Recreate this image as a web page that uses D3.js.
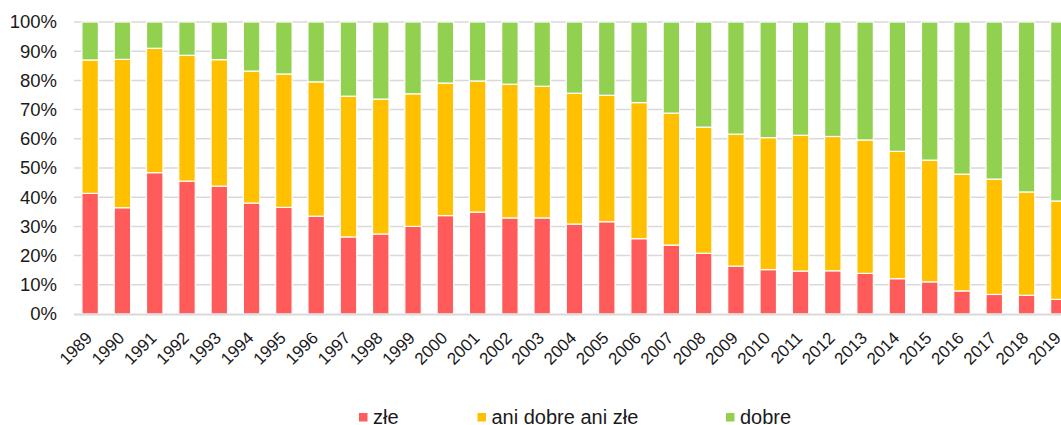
<!DOCTYPE html>
<html>
<head>
<meta charset="utf-8">
<script src="https://cdn.jsdelivr.net/npm/d3@7"></script>
<style>
  body { margin: 0; background: #fff; }
  svg text { font-family: "Liberation Sans", Arial, sans-serif; fill: #1a1a1a; }
</style>
</head>
<body>
<div id="plot"></div>
<script>
var years = ["1989","1990","1991","1992","1993","1994","1995","1996","1997","1998",
             "1999","2000","2001","2002","2003","2004","2005","2006","2007","2008",
             "2009","2010","2011","2012","2013","2014","2015","2016","2017","2018","2019"];

// udział odpowiedzi w %
var zle   = [41.3,36.4,48.4,45.5,43.8,38.0,36.5,33.5,26.4,27.4,
             30.0,33.7,34.9,32.9,32.9,30.8,31.6,25.8,23.6,20.8,
             16.4,15.2,14.7,14.8,13.9,12.1,11.0,7.9,6.7,6.4,5.0];
var ani   = [45.7,50.8,42.6,43.1,43.3,45.2,45.7,46.0,48.2,46.2,
             45.4,45.4,44.9,45.8,45.1,44.8,43.3,46.6,45.2,43.2,
             45.2,45.2,46.5,46.0,45.7,43.6,41.7,40.0,39.5,35.4,33.7];
var dobre = [13.0,12.8,9.0,11.4,12.9,16.8,17.8,20.5,25.4,26.4,
             24.6,20.9,20.2,21.3,22.0,24.4,25.1,27.6,31.2,36.0,
             38.4,39.6,38.8,39.2,40.4,44.3,47.3,52.1,53.8,58.2,61.3];

var seriesNames = ["złe", "ani dobre ani złe", "dobre"];
var seriesKeys  = ["zle", "ani", "dobre"];
var colors      = ["#ff5b5b", "#ffc000", "#92d050"];
var yTicks      = [0,10,20,30,40,50,60,70,80,90,100];

var W = 1061, H = 425;

var svg = d3.select("#plot")
            .append("svg")
            .attr("width", W)
            .attr("height", H);

var rows = years.map(function(y, i){
    return { year: y, zle: zle[i], ani: ani[i], dobre: dobre[i] };
});

var stacked = d3.stack().keys(seriesKeys)(rows);

var xScale = d3.scaleBand()
               .domain(years)
               .range([74, 1075])
               .paddingInner(0.49)
               .paddingOuter(0.245),
    yScale = d3.scaleLinear()
               .domain([0, 100])
               .range([314, 22]);

// siatka
svg.append("g").selectAll("line")
    .data(yTicks.filter(function(d){ return d > 0; }))
    .enter().append("line")
    .attr("x1", 74)
    .attr("x2", W + 20)
    .attr("y1", function(d){ return yScale(d); })
    .attr("y2", function(d){ return yScale(d); })
    .style("stroke", "#d9d9d9")
    .style("stroke-width", 1.5);

// słupki
svg.append("g").selectAll("g")
    .data(stacked)
    .enter().append("g")
    .style("fill", function(d, i){ return colors[i]; })
    .selectAll("rect")
    .data(function(d){ return d; })
    .enter().append("rect")
    .attr("x", function(d){ return xScale(d.data.year); })
    .attr("y", function(d){ return yScale(d[1]); })
    .attr("width", xScale.bandwidth())
    .attr("height", function(d){ return yScale(d[0]) - yScale(d[1]); })
    .style("stroke", "#fff")
    .style("stroke-width", 1.2);

// oś X
svg.append("line")
    .attr("x1", 74)
    .attr("x2", W + 20)
    .attr("y1", yScale(0) + 0.5)
    .attr("y2", yScale(0) + 0.5)
    .style("stroke", "#d9d9d9")
    .style("stroke-width", 2);

// etykiety Y
var yAxis = d3.axisLeft(yScale)
              .tickValues(yTicks)
              .tickSize(0)
              .tickPadding(0)
              .tickFormat(function(d){ return d + "%"; });

var gy = svg.append("g")
            .attr("transform", "translate(57,0)")
            .call(yAxis);
gy.select(".domain").remove();
gy.selectAll("text")
  .style("font-size", "18.5px")
  .style("font-family", "'Liberation Sans', Arial, sans-serif")
  .style("fill", "#1a1a1a");

// etykiety X
var xAxis = d3.axisBottom(xScale).tickSize(0).tickPadding(0);
var gx = svg.append("g")
            .attr("transform", "translate(0,314)")
            .call(xAxis);
gx.select(".domain").remove();
gx.selectAll(".tick text")
  .attr("x", null)
  .attr("y", null)
  .attr("dy", null)
  .attr("transform", "translate(3,25) rotate(-45)")
  .style("text-anchor", "end")
  .style("font-size", "17px")
  .style("font-family", "'Liberation Sans', Arial, sans-serif")
  .style("fill", "#1a1a1a");

// legenda
var legendX = [359, 477.5, 726];
var legend = svg.append("g").selectAll("g")
    .data(seriesNames)
    .enter().append("g")
    .attr("transform", function(d, i){ return "translate(" + legendX[i] + ",413)"; });
legend.append("rect")
    .attr("width", 8.5)
    .attr("height", 8.5)
    .style("fill", function(d, i){ return colors[i]; });
legend.append("text")
    .attr("x", 14)
    .attr("y", 10.5)
    .style("font-size", "20px")
    .text(function(d){ return d; });
</script>
</body>
</html>
